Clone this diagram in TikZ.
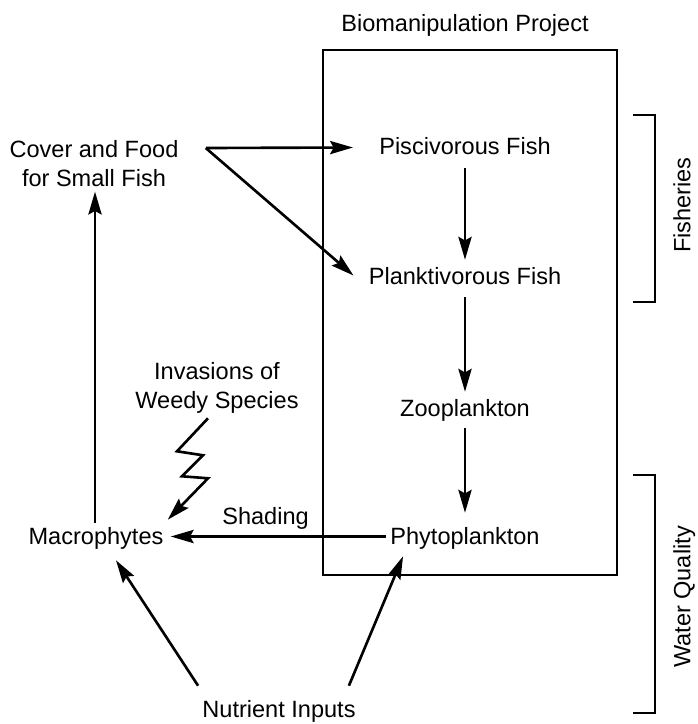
\documentclass[tikz,border=0pt]{standalone}
\usepackage{fontspec}
\setmainfont{Liberation Sans}
\usetikzlibrary{arrows.meta,calc}

\begin{document}
\begin{tikzpicture}[x=0.02cm, y=-0.02cm]
\tikzset{every node/.style={font=\fontsize{13.4}{16.3}\selectfont, inner sep=0pt}}
\tikzset{txt/.style={text height=9.6pt, text depth=0pt}}
\tikzset{arr/.style={draw, line width=1.5pt, -{Stealth[length=13pt, width=7.5pt, inset=2pt]}}}
\tikzset{brk/.style={draw, line width=0.9pt}}
\useasboundingbox (0,0) rectangle (697,724);

\node[draw, line width=1.1pt, minimum width=5.88cm, minimum height=10.5cm] (proj) at (470,312.5) {};
\node[txt] (title) at (465,23.5) {Biomanipulation Project};

\node[txt] (pisc) at (465,146.5) {Piscivorous Fish};
\node[txt] (plank) at (465,276.5) {Planktivorous Fish};
\node[txt] (zoo) at (465,408.5) {Zooplankton};
\node[txt] (phyto) at (465,536.5) {Phytoplankton};
\node[txt] (mac) at (96,536.5) {Macrophytes};
\node[align=center, anchor=north] (cover) at (94,140) {Cover and Food\\for Small Fish};
\node[align=center, anchor=north] (weedy) at (217,362) {Invasions of\\Weedy Species};
\node[txt] (shading) at (265.5,516.5) {Shading};
\node[txt] (nutr) at (279,709.5) {Nutrient Inputs};

\draw[arr] ($(cover.north east)+(27,8)$) coordinate (fork) -- ($(pisc.west)+(-26,1)$);
\draw[arr] (fork) -- ($(plank.west)+(-15,-1)$);
\draw[arr] ($(pisc.south)+(0,13)$) -- ($(plank.north)+(0,-8)$);
\draw[arr] ($(plank.south)+(0,12)$) -- ($(zoo.north)+(0,-8)$);
\draw[arr] ($(zoo.south)+(0,11)$) -- ($(phyto.north)+(0,-15)$);
\draw[arr] ($(phyto.west)+(-4,0)$) -- ($(mac.east)+(7,0)$);
\draw[arr] ($(mac.north)+(-1,-5)$) -- ($(cover.south)+(1,5)$);
\draw[arr] ($(nutr.north west)+(-4,-15)$) -- ($(mac.south)+(20,15)$);
\draw[arr] ($(nutr.north east)+(-7,-15)$) -- ($(phyto.south west)+(13,11)$);
% zigzag
\coordinate (hit) at ($(mac.north east)+(4,-8)$);
\draw[arr] ($(weedy.south)+(-9,5)$) -- ++(-31,33) -- ++(26,4) -- ++(-21,21) -- ++(26,2) -- (hit);

\draw[brk] (633,115) -- (655,115) -- (655,302) -- (633,302);
\node[txt, rotate=90] (fish) at (682,205) {Fisheries};
\draw[brk] (633,475) -- (655,475) -- (655,713) -- (633,713);
\node[txt, rotate=90] (water) at (682,597) {Water Quality};
\end{tikzpicture}
\end{document}
